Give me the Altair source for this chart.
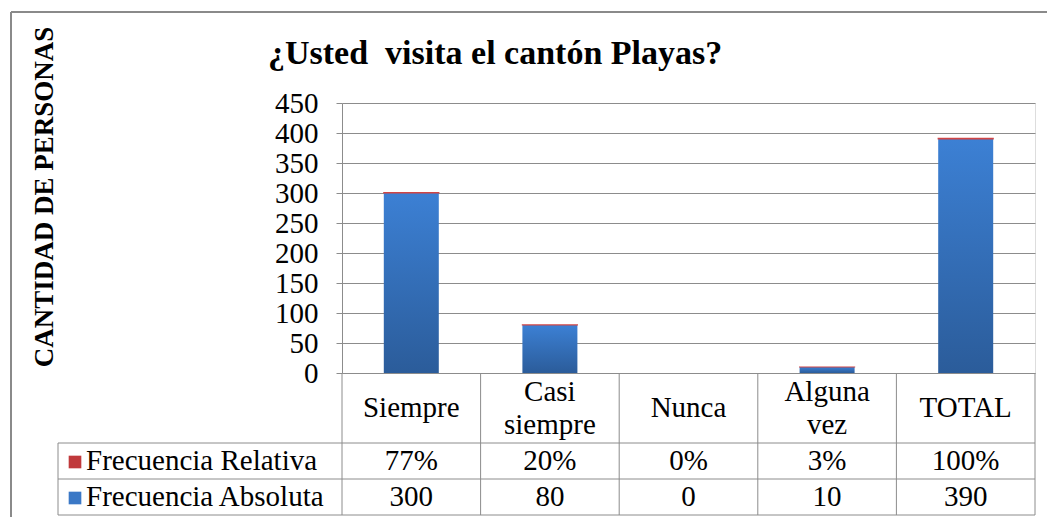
import altair as alt
import pandas as pd

# ---- data ----
categories = ["Siempre", "Casi siempre", "Nunca", "Alguna vez", "TOTAL"]
header_labels = ["Siempre", "Casi\nsiempre", "Nunca", "Alguna\nvez", "TOTAL"]
frecuencia_absoluta = [300, 80, 0, 10, 390]
frecuencia_relativa = [0.77, 0.20, 0.00, 0.03, 1.00]
relativa_labels = ["77%", "20%", "0%", "3%", "100%"]
series = ["Frecuencia Relativa", "Frecuencia Absoluta"]
y_ticks = [0, 50, 100, 150, 200, 250, 300, 350, 400, 450]
chart_title = "¿Usted \u00a0visita el cantón Playas?"
y_title = "CANTIDAD DE PERSONAS"

df = pd.DataFrame({
    "cat": categories,
    "header": header_labels,
    "abs": frecuencia_absoluta,
    "rel": frecuencia_relativa,
    "rel_label": relativa_labels,
})
df["abs_label"] = df["abs"].astype(str)
df["top"] = df["abs"] + df["rel"]

FONT = "Liberation Serif"
GRID = "#8c8c8c"
W, H = 693, 270
FS = 29

x_enc = alt.X("cat:N", sort=categories,
              scale=alt.Scale(domain=categories, paddingInner=0, paddingOuter=0),
              axis=None)
y_scale = alt.Scale(domain=[0, 450], nice=False)
y_axis = alt.Axis(values=y_ticks, title=None, labelOverlap=False,
                  labelFont=FONT, labelFontSize=FS, labelColor="black",
                  labelPadding=18, tickSize=6, tickColor=GRID,
                  domainColor=GRID, gridColor=GRID, grid=True)

base = alt.Chart(df)

blue_grad = alt.Gradient(
    gradient="linear",
    stops=[alt.GradientStop(color="#2b5c9a", offset=0),
           alt.GradientStop(color="#3c80d4", offset=1)],
    x1=0, x2=0, y1=1, y2=0,
)

bars_abs = base.mark_bar(size=55, color=blue_grad).encode(
    x=x_enc,
    y=alt.Y("abs:Q", scale=y_scale, axis=y_axis),
)

bars_rel = base.transform_filter("datum.rel > 0").mark_bar(
    size=55, color="#c0393b", stroke="#d04545", strokeWidth=1.2
).encode(
    x=x_enc,
    y=alt.Y("abs:Q", scale=y_scale, axis=y_axis),
    y2="top:Q",
)

one = alt.Data(values=[{"k": 1}])
rule_style = dict(color=GRID, strokeWidth=1)

# table vertical lines at the band boundaries
vlines = base.mark_rule(**rule_style).encode(
    x=alt.X("cat:N", sort=categories, bandPosition=0,
            scale=alt.Scale(domain=categories, paddingInner=0, paddingOuter=0),
            axis=None),
    y=alt.value(270), y2=alt.value(412),
)
right_edge = alt.Chart(one).mark_rule(**rule_style).encode(
    x=alt.value(W), y=alt.value(270), y2=alt.value(412))
left_edge = alt.Chart(one).mark_rule(**rule_style).encode(
    x=alt.value(-284), y=alt.value(340), y2=alt.value(412))
h_lines = [
    alt.Chart(one).mark_rule(**rule_style).encode(
        x=alt.value(-284), x2=alt.value(W), y=alt.value(yy))
    for yy in (340, 376, 412)
]

# outer frame (left and top edges visible)
frame_style = dict(color="#8a8a8a", strokeWidth=2)
frame_left = alt.Chart(one).mark_rule(**frame_style).encode(
    x=alt.value(-331), y=alt.value(-91), y2=alt.value(430))
frame_top = alt.Chart(one).mark_rule(**frame_style).encode(
    x=alt.value(-331), x2=alt.value(W + 12), y=alt.value(-91))

text_style = dict(font=FONT, fontSize=FS, color="black", baseline="middle")

title_df = pd.DataFrame({"t": [chart_title], "yt": [y_title]})
title_text = alt.Chart(title_df).mark_text(
    font=FONT, fontSize=34, fontWeight="bold", color="black",
    align="left", baseline="middle").encode(
    x=alt.value(-74), y=alt.value(-49), text="t:N")
ytitle_text = alt.Chart(title_df).mark_text(
    font=FONT, fontSize=27, fontWeight="bold", color="black",
    align="center", baseline="middle", angle=270).encode(
    x=alt.value(-297), y=alt.value(94), text="yt:N")

header_single = base.transform_filter(
    "indexof(datum.header, '\\n') < 0").mark_text(**text_style).encode(
    x=x_enc, y=alt.value(305), text="header:N")
header_multi = base.transform_filter(
    "indexof(datum.header, '\\n') >= 0").mark_text(
    lineBreak="\n", lineHeight=33, **text_style).encode(
    x=x_enc, y=alt.value(289), text="header:N")
rel_text = base.mark_text(**text_style).encode(
    x=x_enc, y=alt.value(358), text="rel_label:N")
abs_text = base.mark_text(**text_style).encode(
    x=x_enc, y=alt.value(394), text="abs_label:N")

legend_df = pd.DataFrame({"serie": series})
leg_rel = alt.Chart(legend_df).transform_filter(
    alt.datum.serie == series[0])
leg_abs = alt.Chart(legend_df).transform_filter(
    alt.datum.serie == series[1])

sq_rel = leg_rel.mark_square(size=160, color="#c0393b", opacity=1).encode(
    x=alt.value(-267), y=alt.value(359))
sq_abs = leg_abs.mark_square(size=160, color="#3a78c6", opacity=1).encode(
    x=alt.value(-267), y=alt.value(395))
lab_rel = leg_rel.mark_text(align="left", **text_style).encode(
    x=alt.value(-256), y=alt.value(358), text="serie:N")
lab_abs = leg_abs.mark_text(align="left", **text_style).encode(
    x=alt.value(-256), y=alt.value(394), text="serie:N")

chart = alt.layer(
    bars_abs, bars_rel, vlines, right_edge, left_edge, *h_lines,
    frame_left, frame_top, title_text, ytitle_text,
    header_single, header_multi, rel_text, abs_text,
    sq_rel, sq_abs, lab_rel, lab_abs,
).properties(
    width=W, height=H,
    autosize=alt.AutoSizeParams(type="none"),
    padding={"left": 334, "top": 95, "right": 12, "bottom": 144},
).configure_view(stroke=None).configure(background="white")

chart.save("out.html", embed_options={"renderer": "svg", "actions": False})
